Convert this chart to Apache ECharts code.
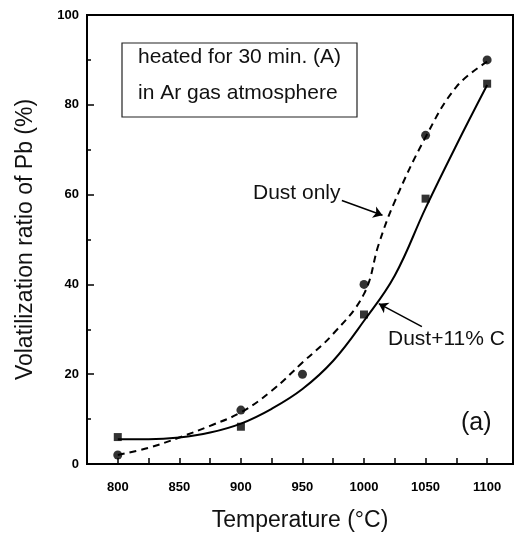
<!DOCTYPE html>
<html><head><meta charset="utf-8">
<script src="https://cdn.jsdelivr.net/npm/echarts@6/dist/echarts.min.js"></script>
<style>html,body{margin:0;padding:0;background:#fff}#c{width:529px;height:537px}</style>
</head><body><div id="c"></div>
<script>
// Measured points
const tempsDust = [800, 900, 950, 1000, 1050, 1100];
const valsDust = [2, 12, 20, 40, 73.2, 90];
const tempsCarbon = [800, 900, 1000, 1050, 1100];
const valsCarbon = [6, 8.3, 33.3, 59.1, 84.7];
// Fitted curves as drawn
const curveDustT = [800, 825, 850, 875, 900, 925, 950, 975, 1000, 1012, 1025, 1050, 1075, 1100];
const curveDustV = [2, 3.6, 5.9, 8.5, 11.5, 16.3, 22.6, 29, 37.9, 49, 58.5, 72.8, 84, 89.6];
const curveCarbT = [800, 825, 850, 875, 900, 925, 950, 975, 1000, 1025, 1050, 1075, 1100];
const curveCarbV = [5.5, 5.5, 5.9, 7, 9, 12.3, 16.7, 23, 31.9, 42, 57, 71, 84.4];
const xLabels = [800, 850, 900, 950, 1000, 1050, 1100];
const xTicks = [800, 825, 850, 875, 900, 925, 950, 975, 1000, 1025, 1050, 1075, 1100];
const yLabels = [0, 20, 40, 60, 80, 100];

const zip = (a, b) => a.map((v, i) => [v, b[i]]);
const font = '"Liberation Sans", Arial, sans-serif';
const chart = echarts.init(document.getElementById('c'), null, {renderer: 'canvas'});
chart.setOption({
  animation: false,
  grid: {left: 87, right: 16, top: 15, bottom: 73, show: true, borderColor: '#000', borderWidth: 2},
  xAxis: {
    type: 'value', min: 775, max: 1121,
    name: 'Temperature (°C)', nameLocation: 'middle', nameGap: 45,
    nameTextStyle: {fontFamily: font, fontSize: 23, color: '#111'},
    axisLine: {lineStyle: {color: '#000', width: 2}},
    axisTick: {inside: true, length: 6, customValues: xTicks, lineStyle: {color: '#000', width: 1.5}},
    axisLabel: {customValues: xLabels, formatter: v => String(v), fontFamily: font, fontWeight: 'bold', fontSize: 13, color: '#000', margin: 17},
    splitLine: {show: false}
  },
  yAxis: {
    type: 'value', min: 0, max: 100, interval: 20,
    name: 'Volatilization ratio of Pb (%)', nameLocation: 'middle', nameGap: 50,
    nameTextStyle: {fontFamily: font, fontSize: 23, color: '#111'},
    axisLine: {lineStyle: {color: '#000', width: 2}},
    axisTick: {inside: true, length: 7, lineStyle: {color: '#000', width: 1.5}},
    minorTick: {show: true, splitNumber: 2, length: 4, lineStyle: {color: '#000', width: 1.5}},
    axisLabel: {fontFamily: font, fontWeight: 'bold', fontSize: 13, color: '#000', margin: 8,
      formatter: v => yLabels.includes(v) ? String(v) : ''},
    splitLine: {show: false}
  },
  series: [
    {type: 'line', data: zip(curveDustT, curveDustV), smooth: 0.4, showSymbol: false, symbol: 'none',
      lineStyle: {color: '#000', width: 2, type: [7, 5]}, z: 2,
      markLine: {silent: true, symbol: ['none', 'arrow'], symbolSize: 9,
        lineStyle: {color: '#000', width: 1.5, type: 'solid', curveness: -0.2}, label: {show: false},
        data: [[{coord: [982, 58.7]}, {coord: [1015, 55.4]}]]}},
    {type: 'line', data: zip(curveCarbT, curveCarbV), smooth: 0.4, showSymbol: false, symbol: 'none',
      lineStyle: {color: '#000', width: 2}, z: 2,
      markLine: {silent: true, symbol: ['none', 'arrow'], symbolSize: 9,
        lineStyle: {color: '#000', width: 1.5, type: 'solid', curveness: 0.1}, label: {show: false},
        data: [[{coord: [1047, 30.6]}, {coord: [1012, 35.7]}]]}},
    {type: 'scatter', data: zip(tempsDust, valsDust), symbol: 'circle', symbolSize: 9,
      itemStyle: {color: '#000'}, z: 3},
    {type: 'scatter', data: zip(tempsCarbon, valsCarbon), symbol: 'rect', symbolSize: 8,
      itemStyle: {color: '#000'}, z: 3}
  ],
  graphic: [
    {type: 'rect', shape: {x: 122, y: 43, width: 235, height: 74}, style: {fill: '#fff', stroke: '#222', lineWidth: 1.2}, z: 10},
    {type: 'text', x: 138, y: 39, z: 11, style: {text: 'heated for 30 min. (A)\nin Ar gas atmosphere', font: '21px ' + font, fill: '#111', lineHeight: 36}},
    {type: 'text', x: 253, y: 183, z: 11, style: {text: 'Dust only', font: '21px ' + font, fill: '#111'}},
    {type: 'text', x: 388, y: 329, z: 11, style: {text: 'Dust+11% C', font: '21px ' + font, fill: '#111'}},
    {type: 'text', x: 461, y: 411, z: 11, style: {text: '(a)', font: '25px ' + font, fill: '#111'}}
  ]
});
</script></body></html>
